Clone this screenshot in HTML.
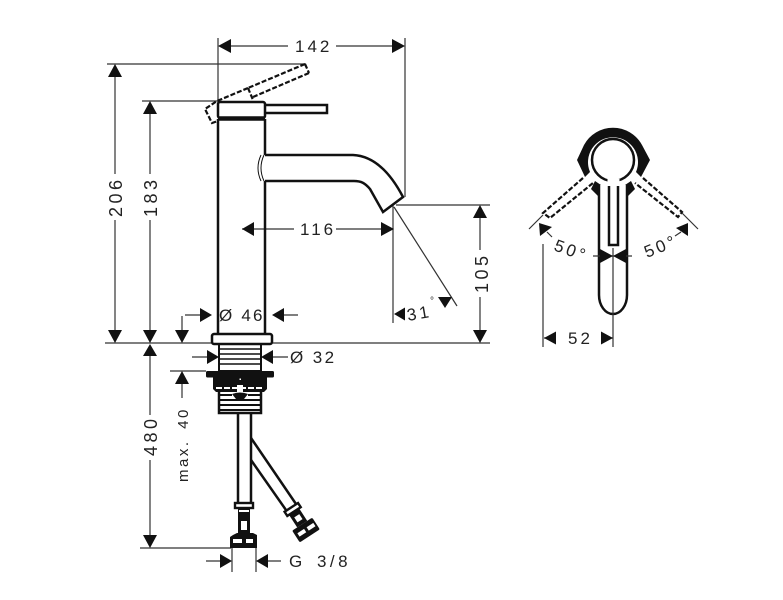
<!DOCTYPE html>
<html>
<head>
<meta charset="utf-8">
<style>
html,body{margin:0;padding:0;background:#fff;width:783px;height:600px;overflow:hidden}
svg{display:block}
text{font-family:"Liberation Sans",sans-serif;font-size:17px;fill:#222;letter-spacing:3px}
.v{font-size:18px;letter-spacing:3.5px}
.d{stroke:#333;stroke-width:1.2;fill:none}
.m{stroke:#111;stroke-width:2.5;fill:none}
.t{stroke:#111;stroke-width:1.6;fill:none}
.w{stroke:#111;stroke-width:2.5;fill:#fff}
.a{fill:#111;stroke:none}
.h{stroke:#111;stroke-width:2.2;fill:none;stroke-dasharray:5 2}
</style>
</head>
<body>
<svg width="783" height="600" viewBox="0 0 783 600" xmlns="http://www.w3.org/2000/svg">
<!-- extension lines -->
<path class="d" d="M218 38V102M405 38V197M107 64H306M142 101H218M105 343H490M396 205H490M170 371H206M140 548H231"/>
<!-- dimension lines -->
<path class="d" d="M230 46H288M336 46H393M115 76V174M115 220V331M150 113V174M150 220V331M150 355V415M150 460V536M480 217V250M480 297V331M182 330V316M182 383V398M242 229H294M336 229H382M393 205V323M394 207L457 306M185 315H200M283 315H298M192 357H207M273 357H288M206 561H220M268 561H281M232 548V572M256 548V572"/>
<!-- arrows -->
<path class="a" d="M218 46l13-7v14zM405 46l-13-7v14zM115 64l-7 13h14zM115 343l-7-13h14zM150 101l-7 13h14zM150 343l-7-13h14zM150 344l-7 12h14zM150 548l-7-13h14zM480 205l-7 13h14zM480 343l-7-13h14zM182 343l-7-13h14zM182 371l-7 13h14zM212 315l-12-7v14zM272 315l12-7v14zM219 357l-12-7v14zM261 357l12-7v14zM232 561l-12-7v14zM256 561l12-7v14zM242 229l12-7v14zM394 229l-13-7v14zM394 314l11-6.5v13zM438 297h14l-7 11z"/>
<!-- cap and lever -->
<path class="h" d="M305 64L248 88M309 73L253 97M305 64L309 73"/>
<path class="h" d="M248 88L253 100M248 88L217 101L205 109L212 123L218 121"/>
<rect class="w" x="218" y="102" width="47" height="16" rx="2"/>
<path d="M218 118.500H265" stroke="#111" stroke-width="4.500"/>
<path class="m" d="M266 105H327V113H266"/>
<!-- body -->
<path class="m" d="M218 119V333M265 119V155M265 181V333"/>
<!-- spout -->
<path class="w" d="M265 155H353C375 156 391 174 403 197L383 212L370 189C365 183 361 181 354 181H265"/>
<path d="M264 155Q258 168 264 181" stroke="#111" stroke-width="1" fill="#fff"/>
<path d="M261 155Q255 168 261 181" stroke="#111" stroke-width="1" fill="none"/>
<!-- flange -->
<rect class="w" x="212" y="334" width="60" height="10" rx="2"/>
<!-- threads top -->
<rect class="t" x="219" y="344" width="42" height="27" fill="#fff" style="stroke-width:2"/>
<path class="t" d="M219 349H261M219 354H261M219 359H261M219 364H261"/>
<!-- black plate -->
<rect x="206" y="371" width="68" height="6.500" rx="1.500" fill="#111"/>
<path d="M213 377H267V389L264 392H216L213 389Z" fill="#111"/>
<path d="M216 388H264" stroke="#fff" stroke-width="2" stroke-dasharray="6 2"/>
<rect x="237" y="385" width="6" height="8" fill="#fff"/>
<rect x="239.500" y="378.500" width="1.500" height="1.500" fill="#fff"/>
<path d="M232 394Q240 391 248 394L244 399H236Z" fill="#111"/>
<!-- threads bottom -->
<path class="m" d="M219 391V413H261V391"/>
<path class="t" d="M219 395H232M248 395H261M219 400H261M219 405H261M219 410H261" style="stroke-width:2"/>
<!-- hoses -->
<path class="m" d="M238 413V503M251 413V503"/>
<path class="m" d="M251 438L296 504M251 460L286 510"/>
<!-- straight hose fittings -->
<rect x="235" y="503" width="18" height="5" fill="#fff" stroke="#111" stroke-width="2.400"/>
<path d="M238 508H250V533H238Z" fill="#111"/>
<rect x="241" y="521" width="6" height="9" fill="#fff"/>
<path d="M239 511H249" stroke="#fff" stroke-width="2"/>
<path d="M233 535L237 533H253L257 535V548H230V537Z" fill="#111"/>
<rect x="233" y="539" width="9" height="4" fill="#fff"/>
<rect x="246" y="539" width="7" height="4" fill="#fff"/>
<!-- angled hose fittings -->
<g transform="translate(306 530) rotate(-33)">
<rect x="-8" y="-27" width="16" height="5" fill="#fff" stroke="#111" stroke-width="2.400"/>
<rect x="-6" y="-22" width="12" height="15" fill="#111"/>
<rect x="-3" y="-17" width="6" height="6" fill="#fff"/>
<rect x="-12" y="-7" width="24" height="14" rx="1.500" fill="#111"/>
<rect x="-9" y="-2" width="8" height="4" fill="#fff"/>
<rect x="2" y="-2" width="8" height="4" fill="#fff"/>
</g>
<!-- top view -->
<path d="M585 177L577 160L584 145A33 33 0 0 1 642 145L650 160L641 177L636 172A25 25 0 1 0 590 172Z" fill="#111"/>
<circle cx="613" cy="160" r="21" fill="#fff" stroke="#111" stroke-width="2.500"/>
<path d="M591 189L598 196L604 187L595 181ZM635 189L628 196L622 187L631 181Z" fill="#111"/>
<path class="w" d="M599 185V295A14 19 0 0 0 627 295V185"/>
<path class="m" d="M609 180V245H618V180"/>
<path d="M607.500 179H619.500V186H607.500Z" fill="#fff"/>
<path class="h" d="M583 178L543 213L550 218L593 183M643 178L682 212L678 217L635 183"/>
<!-- top view dims -->
<path class="d" d="M613 248V347M543 244V347M529 229L543 215M698 229L682 213M593 256H632M544 338H556M601 338H613"/>
<path class="d" d="M547 232L552 237M681 232L675 236"/>
<path class="a" d="M539 223l13 4-12 9zM688 223l-12 5 12 8zM613 256l-13-7v14zM613 256l13-7v14zM544 338l12-6.500v13zM613 338l-12-6.500v13z"/>
<!-- labels -->
<text x="295" y="52">142</text>
<text x="300" y="235">116</text>
<text class="v" transform="translate(122 217) rotate(-90)">206</text>
<text class="v" transform="translate(157 217) rotate(-90)">183</text>
<text class="v" transform="translate(157 456) rotate(-90)">480</text>
<text class="v" transform="translate(488 293) rotate(-90)">105</text>
<text transform="translate(188 482) rotate(-90)" style="font-size:15px;letter-spacing:2.500px;word-spacing:4px">max. 40</text>
<text x="219" y="321" style="letter-spacing:2.200px">Ø 46</text>
<text x="290" y="363" style="letter-spacing:2.400px">Ø 32</text>
<text x="289" y="567" style="letter-spacing:3.500px;word-spacing:3px">G 3/8</text>
<text transform="translate(408 321) rotate(-10)">31</text>
<text x="430" y="304" style="font-size:10px">°</text>
<text transform="translate(553 250) rotate(20)">50°</text>
<text transform="translate(647 258) rotate(-22)">50°</text>
<text x="568" y="344">52</text>
</svg>
</body>
</html>
